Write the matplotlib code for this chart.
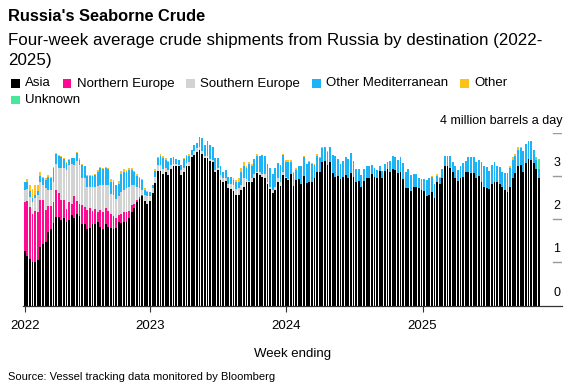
import numpy as np
import pandas as pd
import matplotlib
matplotlib.use("Agg")
import matplotlib.pyplot as plt
from matplotlib.patches import Rectangle

plt.rcParams['font.family'] = ['Liberation Sans', 'DejaVu Sans']

# weekly data, million barrels a day (four-week average)
weeks = pd.date_range("2022-01-30", periods=198, freq="7D")

asia = [
    1.26, 1.16, 1.09, 1.01, 1.02, 1.05, 1.36, 1.43, 1.47, 1.71,
    1.78, 1.92, 2.05, 2.05, 1.98, 2.02, 1.94, 1.98, 2.09, 2.02,
    2.11, 2.08, 1.88, 1.88, 1.78, 1.80, 1.88, 1.88, 1.94, 1.82,
    1.78, 1.90, 1.82, 1.80, 1.78, 1.80, 1.94, 1.92, 1.94, 1.94,
    2.02, 2.17, 2.26, 2.39, 2.47, 2.54, 2.42, 2.36, 2.42, 2.60,
    2.83, 3.12, 3.12, 3.04, 3.10, 3.02, 3.16, 3.22, 3.22, 3.22,
    3.02, 3.10, 3.22, 3.22, 3.43, 3.49, 3.55, 3.60, 3.50, 3.41,
    3.41, 3.35, 3.32, 3.09, 3.14, 2.91, 2.87, 2.88, 2.71, 2.70,
    2.65, 2.57, 2.56, 2.67, 2.75, 2.85, 2.85, 2.87, 2.96, 3.06,
    3.02, 2.98, 2.96, 2.81, 2.70, 2.60, 2.67, 2.85, 2.77, 3.02,
    2.95, 2.91, 3.04, 2.77, 2.91, 2.93, 2.81, 3.01, 2.83, 2.85,
    2.87, 2.95, 3.08, 3.08, 3.32, 3.35, 3.26, 3.32, 3.06, 2.98,
    3.01, 2.93, 2.98, 3.02, 2.96, 3.06, 2.97, 2.87, 2.88, 2.75,
    2.88, 2.96, 2.95, 3.05, 2.98, 2.96, 3.12, 2.96, 3.12, 3.16,
    3.10, 3.16, 3.14, 3.06, 3.08, 2.92, 2.71, 2.73, 2.66, 2.75,
    2.74, 2.73, 2.67, 2.65, 2.54, 2.57, 2.64, 2.50, 2.85, 2.81,
    2.95, 3.22, 3.22, 3.19, 3.10, 2.95, 2.88, 2.95, 2.98, 3.09,
    3.09, 3.07, 3.07, 2.95, 3.01, 2.87, 2.74, 2.71, 2.69, 2.81,
    2.87, 2.85, 2.81, 2.74, 2.67, 2.64, 2.75, 2.95, 3.07, 3.22,
    3.26, 3.10, 3.29, 3.40, 3.37, 3.29, 3.16, 2.95,
]

northern_europe = [
    1.14, 1.27, 1.20, 1.10, 1.17, 1.11, 1.08, 1.01, 0.74, 0.60,
    0.52, 0.48, 0.62, 0.55, 0.46, 0.42, 0.29, 0.41, 0.27, 0.52,
    0.31, 0.28, 0.45, 0.41, 0.43, 0.45, 0.31, 0.35, 0.23, 0.39,
    0.38, 0.35, 0.37, 0.33, 0.30, 0.22, 0.15, 0.21, 0.23, 0.22,
    0.17, 0.16, 0.10, 0.05, 0.05, 0.03,
] + [0.0] * 152

southern_europe = [
    0.27, 0.27, 0.23, 0.29, 0.29, 0.40, 0.43, 0.35, 0.50, 0.36,
    0.37, 0.47, 0.60, 0.59, 0.74, 0.74, 0.91, 0.87, 0.91, 0.72,
    0.93, 0.90, 0.62, 0.66, 0.54, 0.50, 0.56, 0.52, 0.60, 0.59,
    0.64, 0.55, 0.61, 0.45, 0.48, 0.45, 0.44, 0.51, 0.50, 0.55,
    0.56, 0.46, 0.42, 0.31, 0.19, 0.10, 0.14, 0.18, 0.12, 0.13,
    0.15, 0.14, 0.14, 0.12, 0.08, 0.12, 0.10, 0.05, 0.06, 0.04,
    0.12, 0.08, 0.07, 0.10, 0.06, 0.08, 0.10, 0.08, 0.07, 0.05,
    0.05, 0.05, 0.05, 0.05, 0.05, 0.11, 0.08, 0.08, 0.10, 0.11,
    0.14, 0.13, 0.15, 0.11, 0.21, 0.08, 0.03, 0.09, 0.08, 0.04,
    0.08, 0.06, 0.08, 0.06, 0.05, 0.07, 0.08, 0.10, 0.10, 0.08,
    0.03, 0.03,
] + [0.0] * 96

other_med = [
    0.18, 0.17, 0.13, 0.10, 0.09, 0.09, 0.14, 0.17, 0.20, 0.31,
    0.28, 0.32, 0.23, 0.28, 0.25, 0.21, 0.15, 0.12, 0.14, 0.15,
    0.18, 0.11, 0.31, 0.27, 0.26, 0.26, 0.24, 0.27, 0.33, 0.38,
    0.36, 0.38, 0.36, 0.29, 0.29, 0.32, 0.28, 0.40, 0.43, 0.38,
    0.39, 0.35, 0.32, 0.26, 0.24, 0.23, 0.11, 0.10, 0.08, 0.06,
    0.14, 0.15, 0.21, 0.25, 0.19, 0.18, 0.15, 0.16, 0.12, 0.11,
    0.12, 0.21, 0.18, 0.15, 0.11, 0.15, 0.12, 0.22, 0.31, 0.26,
    0.35, 0.31, 0.29, 0.27, 0.22, 0.20, 0.15, 0.18, 0.17, 0.17,
    0.12, 0.17, 0.14, 0.32, 0.26, 0.25, 0.39, 0.28, 0.36, 0.37,
    0.36, 0.45, 0.41, 0.40, 0.44, 0.37, 0.44, 0.34, 0.39, 0.39,
    0.35, 0.38, 0.28, 0.29, 0.23, 0.29, 0.41, 0.42, 0.44, 0.47,
    0.40, 0.31, 0.39, 0.33, 0.32, 0.31, 0.29, 0.34, 0.43, 0.47,
    0.39, 0.34, 0.37, 0.41, 0.43, 0.47, 0.38, 0.29, 0.28, 0.27,
    0.28, 0.28, 0.27, 0.21, 0.20, 0.18, 0.11, 0.16, 0.15, 0.17,
    0.25, 0.31, 0.29, 0.31, 0.35, 0.37, 0.39, 0.43, 0.36, 0.30,
    0.30, 0.22, 0.25, 0.27, 0.37, 0.39, 0.33, 0.31, 0.16, 0.15,
    0.21, 0.23, 0.23, 0.28, 0.22, 0.29, 0.26, 0.29, 0.33, 0.26,
    0.34, 0.36, 0.36, 0.38, 0.36, 0.45, 0.48, 0.49, 0.43, 0.45,
    0.45, 0.39, 0.39, 0.35, 0.39, 0.42, 0.43, 0.42, 0.38, 0.38,
    0.38, 0.48, 0.45, 0.41, 0.43, 0.31, 0.22, 0.20,
]

other = [
    0.02, 0.06, 0.14, 0.20, 0.22, 0.14, 0.07, 0.02, 0.04, 0.04,
    0.02, 0.02, 0.02, 0.01, 0.02, 0.02, 0.03, 0.02, 0.00, 0.00,
    0.02, 0.04, 0.02, 0.02, 0.02, 0.02, 0.03, 0.03, 0.03, 0.02,
    0.02, 0.03, 0.03, 0.06, 0.06, 0.00, 0.07, 0.08, 0.06, 0.05,
    0.05, 0.05, 0.02, 0.03, 0.03, 0.03, 0.04, 0.01, 0.00, 0.00,
    0.04, 0.02, 0.03, 0.04, 0.04, 0.03, 0.00, 0.00, 0.00, 0.00,
    0.00, 0.02, 0.02, 0.03, 0.00, 0.00, 0.00, 0.00, 0.00, 0.00,
    0.00, 0.00, 0.00, 0.00, 0.00, 0.00, 0.00, 0.00, 0.00, 0.00,
    0.04, 0.04, 0.11, 0.08, 0.11, 0.06, 0.05, 0.03, 0.00, 0.03,
    0.01, 0.00, 0.00, 0.00, 0.00, 0.00, 0.00, 0.00, 0.00, 0.01,
    0.05, 0.05, 0.05, 0.02, 0.04, 0.02, 0.02, 0.02, 0.00, 0.02,
    0.02, 0.02, 0.03, 0.02, 0.02, 0.02, 0.03, 0.00, 0.00, 0.00,
    0.00, 0.00, 0.00, 0.00, 0.00, 0.00, 0.00, 0.00, 0.00, 0.00,
    0.00, 0.00, 0.00, 0.00, 0.00, 0.00, 0.00, 0.00, 0.00, 0.00,
    0.00, 0.00, 0.00, 0.00, 0.00, 0.00, 0.00, 0.00, 0.00, 0.00,
    0.00, 0.00, 0.00, 0.00, 0.00, 0.00, 0.03, 0.00, 0.03, 0.02,
    0.00, 0.00, 0.00, 0.00, 0.00, 0.00, 0.00, 0.00, 0.00, 0.00,
    0.00, 0.00, 0.00, 0.00, 0.00, 0.00, 0.00, 0.00, 0.00, 0.00,
    0.00, 0.00, 0.00, 0.00, 0.00, 0.00, 0.04, 0.06, 0.05, 0.06,
    0.04, 0.00, 0.00, 0.00, 0.00, 0.00, 0.00, 0.00,
]

unknown = [0.0] * 196 + [0.05, 0.25]

series = ["Asia", "Northern Europe", "Southern Europe", "Other Mediterranean", "Other", "Unknown"]
colors = ["#000000", "#ff0a93", "#d3d3d3", "#1cb4f6", "#fcc21b", "#47e89c"]
values = [asia, northern_europe, southern_europe, other_med, other, unknown]

W, H = 583, 388
fig = plt.figure(figsize=(W / 100, H / 100), dpi=100)


def fx(x):
    return x / W


def fy(y):
    return 1 - y / H


ax = fig.add_axes([fx(23), fy(305.7), fx(562) - fx(23), fy(132.7) - fy(305.7)])

bottom = np.zeros(len(weeks))
for name, vals, c in zip(series, values, colors):
    vals = np.array(vals)
    ax.bar(weeks, vals, width=4.9, bottom=bottom, color=c, linewidth=0)
    bottom += vals

start = weeks[0] - pd.Timedelta(days=4.6)
ax.set_xlim(start, start + pd.Timedelta(days=1445.6))
ax.set_ylim(0, 4)

for s in ["top", "left", "right"]:
    ax.spines[s].set_visible(False)
ax.spines["bottom"].set_color("#333333")
ax.spines["bottom"].set_linewidth(0.9)
ax.set_yticks([])

year_ticks = [weeks[0], pd.Timestamp("2023-01-01"), pd.Timestamp("2024-01-01"), pd.Timestamp("2025-01-01")]
ax.set_xticks(year_ticks)
ax.set_xticklabels(["2022", "2023", "2024", "2025"], fontsize=9.5)
ax.tick_params(axis="x", length=4, width=0.8, color="#333333", pad=6)
ax.set_xlabel("Week ending", fontsize=9.5, labelpad=12)

# y scale on the right: short dashes with labels above
for v in [1, 2, 3, 4]:
    ax.axhline(v, xmin=0.983, xmax=1.0, color="#999999", linewidth=1)
for v in [0, 1, 2, 3]:
    ax.text(0.9907, v + 0.3, str(v), transform=ax.get_yaxis_transform(),
            ha="center", va="center", fontsize=9)
ax.text(1.0, 4 + 0.27, "4 million barrels a day", transform=ax.get_yaxis_transform(),
        ha="right", va="center", fontsize=9)

fig.text(fx(8), fy(20.7), "Russia's Seaborne Crude", fontsize=11.8, fontweight="bold", va="baseline")
fig.text(fx(8), fy(44.5), "Four-week average crude shipments from Russia by destination (2022-",
         fontsize=12.2, va="baseline")
fig.text(fx(8), fy(65.5), "2025)", fontsize=12.2, va="baseline")
fig.text(fx(8), fy(377), "Source: Vessel tracking data monitored by Bloomberg", fontsize=8, va="center")

# legend laid out in rows
renderer = fig.canvas.get_renderer()
x, y = 11, 83.5
sq = 8.5
for name, c in zip(series, colors):
    t = fig.text(fx(x + 14), fy(y), name, fontsize=9.5, va="center")
    w = t.get_window_extent(renderer).width
    if x + 14 + w > 545:
        x, y = 11, y + 16.5
        t.set_position((fx(x + 14), fy(y)))
    fig.add_artist(Rectangle((fx(x), fy(y + sq / 2)), sq / W, sq / H,
                             transform=fig.transFigure, color=c, linewidth=0))
    x = x + 14 + w + 12

fig.savefig("out.png", dpi=100)
